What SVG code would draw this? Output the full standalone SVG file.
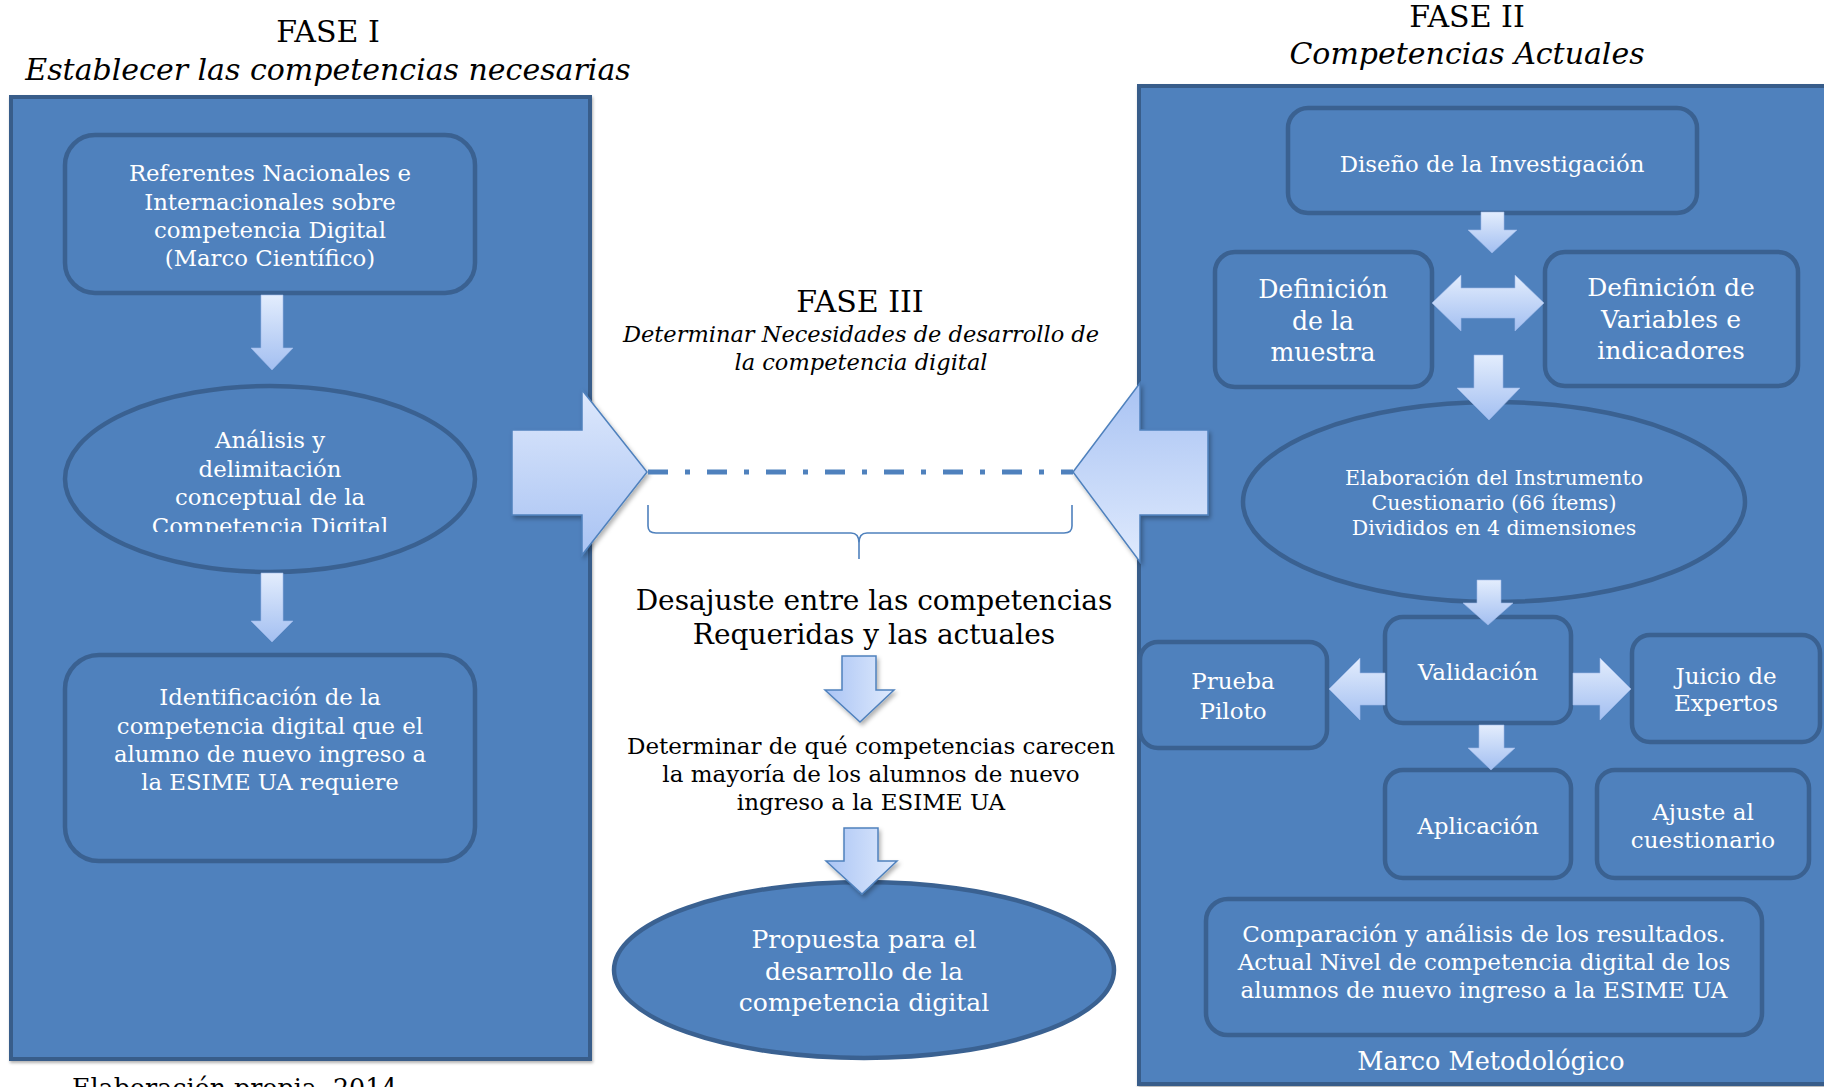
<svg xmlns="http://www.w3.org/2000/svg" width="1824" height="1087" viewBox="0 0 1824 1087">
<defs>
<style>
text{font-family:"DejaVu Serif","Liberation Serif",serif;text-anchor:middle}
.w{fill:#ffffff}
.k{fill:#000000}
.it{font-style:italic}
.panel{fill:#4f81bd;stroke:#385d8a;stroke-width:4}
.box{fill:#4f81bd;stroke:#3a6191;stroke-width:4.5}
.pa{fill:url(#gV);stroke:#9db9ea;stroke-width:0.6}
.ma{fill:url(#gH);stroke:#4f81bd;stroke-width:1.5}
.f1{font-size:22.8px}
.f2{font-size:23px}
</style>
<linearGradient id="gV" x1="0" y1="0" x2="0" y2="1">
<stop offset="0" stop-color="#e3edfd"/><stop offset="1" stop-color="#a3bff1"/>
</linearGradient>
<linearGradient id="gH" x1="0" y1="0" x2="1" y2="0">
<stop offset="0" stop-color="#aac4f4"/><stop offset="1" stop-color="#dfeafd"/>
</linearGradient>
<linearGradient id="gBL" x1="0" y1="0" x2="0" y2="1">
<stop offset="0" stop-color="#dde8fc"/><stop offset="1" stop-color="#a9c3f3"/>
</linearGradient>
<linearGradient id="gBR" x1="0" y1="0" x2="0" y2="1">
<stop offset="0" stop-color="#a9c3f3"/><stop offset="1" stop-color="#dfeafd"/>
</linearGradient>
<filter id="sh" x="-20%" y="-20%" width="140%" height="140%"><feDropShadow dx="2" dy="3" stdDeviation="2" flood-color="#000" flood-opacity="0.3"/></filter>
<filter id="psh" x="-5%" y="-5%" width="110%" height="110%"><feDropShadow dx="1" dy="2" stdDeviation="1.5" flood-color="#000" flood-opacity="0.3"/></filter>
<clipPath id="clipA"><rect x="60" y="380" width="420" height="152"/></clipPath>
</defs>

<rect x="0" y="0" width="1824" height="1087" fill="#ffffff"/>

<g id="titles">
<text class="k" x="328" y="42" font-size="30">FASE I</text>
<text class="k it" x="328" y="80" font-size="30">Establecer las competencias necesarias</text>
<text class="k" x="1467" y="27" font-size="30">FASE II</text>
<text class="k it" x="1467" y="64" font-size="30">Competencias Actuales</text>
<text class="k" x="860" y="312" font-size="30">FASE III</text>
<text class="k it" x="861" y="342" font-size="22.5">Determinar Necesidades de desarrollo de</text>
<text class="k it" x="861" y="370" font-size="22.5">la competencia digital</text>
<text class="k" x="72" y="1097" font-size="25.3" style="text-anchor:start">Elaboración propia, 2014</text>
</g>

<g id="panel-fase1">
<rect class="panel" x="11" y="97" width="579" height="962" filter="url(#psh)"/>
</g>
<g id="panel-fase2">
<rect class="panel" x="1139" y="86" width="720" height="998" filter="url(#psh)"/>
<text class="w" x="1491" y="1070" font-size="25.5">Marco Metodológico</text>
</g>

<g id="referentes">
<rect class="box" x="65" y="135" width="410" height="158" rx="30"/>
<text class="w f1" x="270" y="181">Referentes Nacionales e</text>
<text class="w f1" x="270" y="209.5">Internacionales sobre</text>
<text class="w f1" x="270" y="238">competencia Digital</text>
<text class="w f1" x="270" y="266">(Marco Científico)</text>
</g>

<g id="analisis">
<ellipse class="box" cx="270" cy="479" rx="205" ry="93"/>
<g clip-path="url(#clipA)">
<text class="w f1" x="270" y="448">Análisis y</text>
<text class="w f1" x="270" y="476.5">delimitación</text>
<text class="w f1" x="270" y="505">conceptual de la</text>
<text class="w f1" x="270" y="534">Competencia Digital</text>
</g>
</g>

<g id="identificacion">
<rect class="box" x="65" y="655" width="410" height="206" rx="34"/>
<text class="w f1" x="270" y="705">Identificación de la</text>
<text class="w f1" x="270" y="733.5">competencia digital que el</text>
<text class="w f1" x="270" y="762">alumno de nuevo ingreso a</text>
<text class="w f1" x="270" y="790">la ESIME UA requiere</text>
</g>

<g id="desajuste">
<text class="k" x="874" y="610" font-size="28">Desajuste entre las competencias</text>
<text class="k" x="874" y="644" font-size="28">Requeridas y las actuales</text>
</g>

<g id="determinar">
<text class="k" x="871" y="754" font-size="23">Determinar de qué competencias carecen</text>
<text class="k" x="871" y="782" font-size="23">la mayoría de los alumnos de nuevo</text>
<text class="k" x="871" y="810" font-size="23">ingreso a la ESIME UA</text>
</g>

<g id="propuesta">
<ellipse class="box" cx="864" cy="970" rx="250" ry="88"/>
<text class="w" x="864" y="948" font-size="25">Propuesta para el</text>
<text class="w" x="864" y="979.5" font-size="25">desarrollo de la</text>
<text class="w" x="864" y="1011" font-size="25">competencia digital</text>
</g>

<g id="diseno">
<rect class="box" x="1288" y="108" width="409" height="105" rx="20"/>
<text class="w f1" x="1492" y="172">Diseño de la Investigación</text>
</g>

<g id="muestra">
<rect class="box" x="1215" y="252" width="217" height="135" rx="20"/>
<text class="w" x="1323" y="298" font-size="25.2">Definición</text>
<text class="w" x="1323" y="330" font-size="25.2">de la</text>
<text class="w" x="1323" y="361" font-size="25.2">muestra</text>
</g>

<g id="variables">
<rect class="box" x="1545" y="252" width="253" height="134" rx="20"/>
<text class="w" x="1671" y="296" font-size="25">Definición de</text>
<text class="w" x="1671" y="328" font-size="25">Variables e</text>
<text class="w" x="1671" y="359" font-size="25">indicadores</text>
</g>

<g id="elaboracion">
<ellipse class="box" cx="1494" cy="502" rx="251" ry="100"/>
<text class="w" x="1494" y="485" font-size="20.5">Elaboración del Instrumento</text>
<text class="w" x="1494" y="510" font-size="20.5">Cuestionario (66 ítems)</text>
<text class="w" x="1494" y="535" font-size="20.5">Divididos en 4 dimensiones</text>
</g>

<g id="validacion">
<rect class="box" x="1385" y="617" width="186" height="106" rx="18"/>
<text class="w f2" x="1478" y="680">Validación</text>
</g>

<g id="prueba">
<rect class="box" x="1140" y="642" width="187" height="106" rx="18"/>
<text class="w f2" x="1233" y="689">Prueba</text>
<text class="w f2" x="1233" y="719">Piloto</text>
</g>

<g id="juicio">
<rect class="box" x="1632" y="635" width="188" height="107" rx="18"/>
<text class="w f2" x="1726" y="684">Juicio de</text>
<text class="w f2" x="1726" y="711">Expertos</text>
</g>

<g id="aplicacion">
<rect class="box" x="1385" y="770" width="186" height="108" rx="18"/>
<text class="w f2" x="1478" y="834">Aplicación</text>
</g>

<g id="ajuste">
<rect class="box" x="1597" y="770" width="212" height="108" rx="18"/>
<text class="w f2" x="1703" y="820">Ajuste al</text>
<text class="w f2" x="1703" y="848">cuestionario</text>
</g>

<g id="comparacion">
<rect class="box" x="1206" y="899" width="556" height="136" rx="22"/>
<text class="w f2" x="1484" y="942">Comparación y análisis de los resultados.</text>
<text class="w f2" x="1484" y="970">Actual Nivel de competencia digital de los</text>
<text class="w f2" x="1484" y="998">alumnos de nuevo ingreso a la ESIME UA</text>
</g>

<g id="connectors">
<path fill="url(#gBL)" stroke="#4f81bd" stroke-width="1.5" filter="url(#sh)" d="M512,430 H582 V390 L647,472 L582,555 V515 H512 Z"/>
<path fill="url(#gBR)" stroke="#4f81bd" stroke-width="1.5" filter="url(#sh)" d="M1073,472 L1140,383 V430 H1208 V515 H1140 V562 Z"/>
<line x1="648" y1="472" x2="1073" y2="472" stroke="#4f81bd" stroke-width="5" stroke-dasharray="20 17 5 17"/>
<path d="M648,505 V526 Q648,533 656,533 H851 Q859,533 859,543 V559 M859,559 V543 Q859,533 867,533 H1064 Q1072,533 1072,526 V505" fill="none" stroke="#4f81bd" stroke-width="1.6"/>
<path class="pa" d="M261,295 H283 V348 H293 L272,370 L251,348 H261 Z"/>
<path class="pa" d="M261,573 H283 V621 H293 L272,642 L251,621 H261 Z"/>
<path class="ma" filter="url(#sh)" d="M842,656 H876 V690 H894 L860,722 L825,690 H842 Z"/>
<path class="ma" filter="url(#sh)" d="M844,828 H878 V861 H897 L862,894 L826,861 H844 Z"/>
<path class="pa" d="M1481,212 H1504 V230 H1517 L1492,253 L1468,230 H1481 Z"/>
<path class="pa" d="M1432,303 L1461,275 V288 H1515 V275 L1544,303 L1515,331 V318 H1461 V331 Z"/>
<path class="pa" d="M1474,355 H1503 V388 H1520 L1489,420 L1457,388 H1474 Z"/>
<path class="pa" d="M1477,580 H1501 V603 H1513 L1488,625 L1463,603 H1477 Z"/>
<path class="pa" d="M1329,689 L1360,658 V673 H1385 V705 H1360 V720 Z"/>
<path class="pa" d="M1573,673 H1600 V658 L1631,689 L1600,720 V705 H1573 Z"/>
<path class="pa" d="M1479,725 H1504 V748 H1515 L1491,770 L1468,748 H1479 Z"/>
</g>
</svg>
